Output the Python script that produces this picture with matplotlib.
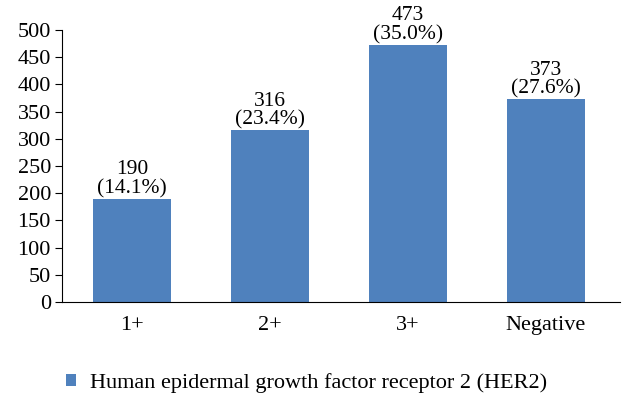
import matplotlib.pyplot as plt
from matplotlib.patches import Patch

# data
categories = ["1+", "2+", "3+", "Negative"]
counts = [190, 316, 473, 373]
percents = ["14.1%", "23.4%", "35.0%", "27.6%"]

plt.rcParams["font.family"] = ["Liberation Serif", "DejaVu Serif"]

fig = plt.figure(figsize=(6.28, 4.09), dpi=100)
ax = fig.add_axes([62 / 628, 0.2616, 558 / 628, 0.665])

x = range(len(categories))
bars = ax.bar(x, counts, width=0.566, color="#4F81BD")

for b, c, p in zip(bars, counts, percents):
    ax.text(b.get_x() + b.get_width() / 2, c + 1, f"{c}\n({p})",
            ha="center", va="bottom", fontsize=15.5, linespacing=0.98)

ax.set_xlim(-0.51, 3.54)
ax.set_ylim(0, 500)
ax.set_yticks(range(0, 501, 50))
ax.set_xticks(list(x))
ax.set_xticklabels(categories)
ax.tick_params(axis="y", direction="out", length=5, labelsize=16, pad=3)
ax.tick_params(axis="x", length=0, labelsize=16, pad=10)

for s in ["top", "right"]:
    ax.spines[s].set_visible(False)
ax.spines["left"].set_color("black")
ax.spines["bottom"].set_color("black")

handle = Patch(facecolor="#4F81BD", label="Human epidermal growth factor receptor 2 (HER2)")
fig.legend(handles=[handle], loc="center left", bbox_to_anchor=(0.087, 0.064),
           frameon=False, fontsize=16, handlelength=0.45, handleheight=0.45,
           handletextpad=0.62, borderpad=0)

fig.savefig("out.png", dpi=100)
